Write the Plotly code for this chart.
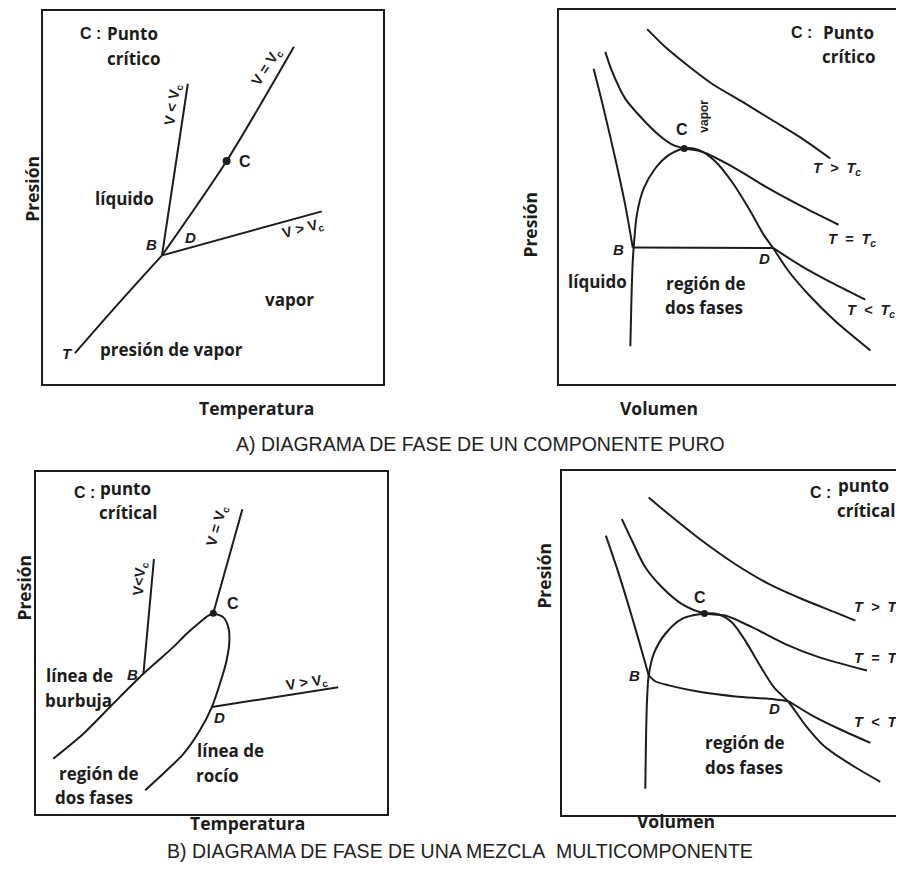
import plotly.graph_objects as go

# browser page has an 8 px body margin: the figure is shrunk and shifted by it
OFF = 8
W, H = 904 - OFF, 880 - OFF
INK = "#1c1c1c"
SANS = "Open Sans, Lato, sans-serif"
ARIAL = "Liberation Sans, Arial, sans-serif"
SP = "&nbsp;"

# ---------------- data (each panel in 0-100 units) ----------------
# A-left : Presión vs Temperatura, componente puro
a1_vap_T = [9.4, 22.3, 35.0]
a1_vap_P = [8.3, 21.7, 34.5]
a1_vlt_T = [35.0, 42.6]
a1_vlt_P = [34.5, 80.5]
a1_veq_T = [35.0, 54.0, 73.8]
a1_veq_P = [34.5, 59.8, 90.4]
a1_vgt_T = [35.0, 82.0]
a1_vgt_P = [34.5, 46.3]
a1_crit_T = [54.0]
a1_crit_P = [59.8]

# A-right : Presión vs Volumen, componente puro
a2_tgt_V = [25.7, 31.0, 36.8, 44.6, 53.4, 62.1, 70.8, 79.1]
a2_tgt_P = [94.9, 90.1, 85.7, 80.3, 75.5, 70.6, 65.7, 60.3]
a2_teq_V = [13.5, 15.5, 19.3, 24.2, 29.1, 32.9, 36.5, 41.7, 51.4, 61.1, 70.8, 81.5]
a2_teq_P = [88.8, 83.5, 76.3, 71.0, 66.6, 64.1, 63.0, 62.1, 57.7, 52.3, 47.5, 42.6]
a2_tlt1_V = [10.1, 13.0, 16.4, 19.3, 21.5]
a2_tlt1_P = [84.3, 73.7, 60.3, 47.9, 36.5]
a2_tlt2_V = [21.5, 62.4]
a2_tlt2_P = [36.5, 36.4]
a2_tlt3_V = [62.4, 70.8, 80.6, 89.3]
a2_tlt3_P = [36.4, 31.5, 26.6, 22.6]
a2_dome_V = [20.8, 21.1, 21.5, 21.8, 22.7, 24.7, 28.1, 32.0, 36.5, 40.7, 45.6,
             50.4, 55.3, 59.7, 62.4, 67.0, 72.8, 80.6, 90.8]
a2_dome_P = [10.1, 22.1, 32.8, 36.8, 45.3, 52.3, 57.7, 61.2, 63.0, 62.6, 59.5,
             54.1, 47.0, 39.9, 36.4, 30.1, 23.9, 16.8, 9.0]
a2_crit_V = [36.5]
a2_crit_P = [63.0]

# B-left : Presión vs Temperatura, mezcla multicomponente
b1_bub_T = [4.9, 13.5, 22.0, 30.6, 39.1, 42.9, 46.7, 49.1, 50.5]
b1_bub_P = [16.2, 23.5, 32.3, 41.0, 48.8, 52.7, 56.1, 58.0, 58.7]
b1_dew_T = [50.5, 53.4, 54.8, 55.1, 54.3, 52.4, 50.1, 46.7, 42.0, 36.3, 31.1]
b1_dew_P = [58.7, 57.5, 54.6, 50.7, 44.9, 38.1, 31.3, 24.5, 17.6, 11.9, 7.0]
b1_vlt_T = [30.6, 33.6]
b1_vlt_P = [41.0, 74.5]
b1_veq_T = [50.5, 58.8]
b1_veq_P = [58.7, 89.1]
b1_vgt_T = [50.1, 86.1]
b1_vgt_P = [31.3, 37.1]
b1_crit_T = [50.5]
b1_crit_P = [58.7]

# B-right : Presión vs Volumen, mezcla multicomponente
b2_tgt_V = [25.5, 31.4, 41.2, 51.0, 60.8, 70.6, 80.4, 86.3]
b2_tgt_P = [92.3, 87.4, 79.7, 72.9, 67.2, 62.8, 58.9, 56.5]
b2_teq_V = [17.6, 20.6, 24.5, 29.4, 35.3, 41.9, 48.0, 55.9, 65.7, 75.5, 89.7]
b2_teq_P = [86.0, 79.7, 72.0, 66.2, 61.3, 58.6, 58.0, 54.6, 49.7, 45.9, 42.0]
b2_tlt1_V = [12.9, 16.7, 20.6, 24.0, 25.5]
b2_tlt1_P = [81.2, 70.1, 57.5, 45.9, 40.6]
b2_tlt2_V = [25.5, 27.4, 31.4, 41.2, 51.0, 60.8, 66.7]
b2_tlt2_P = [40.6, 38.9, 37.7, 35.7, 34.5, 33.8, 33.1]
b2_tlt3_V = [66.7, 73.5, 81.4, 90.7]
b2_tlt3_P = [33.1, 29.0, 25.1, 21.0]
b2_dome_V = [24.5, 24.7, 25.0, 25.5, 27.0, 30.4, 35.3, 41.9, 46.1, 50.0, 53.9,
             57.9, 62.3, 66.7, 71.6, 77.4, 85.3, 93.6]
b2_dome_P = [7.7, 21.7, 33.3, 40.6, 46.9, 52.7, 57.0, 58.6, 58.3, 56.0, 50.7,
             44.0, 37.2, 32.8, 26.1, 19.8, 14.5, 9.7]
b2_crit_V = [41.9]
b2_crit_P = [58.6]

# ---------------- labels ----------------
VLT = "V" + SP + "<" + SP + "V<sub>c</sub>"
VEQ = "V" + SP + "=" + SP + "V<sub>c</sub>"
VGT = "V" + SP + ">" + SP + "V<sub>c</sub>"
TGT = "T" + SP * 2 + ">" + SP * 2 + "T<sub>c</sub>"
TEQ = "T" + SP * 2 + "=" + SP * 2 + "T<sub>c</sub>"
TLT = "T" + SP * 2 + "<" + SP * 2 + "T<sub>c</sub>"

a1_labels = [("C :", 14.1, 93.9, "C", 0), ("Punto", 26.2, 93.9, "lbl", 0),
             ("crítico", 26.5, 87.4, "lbl", 0),
             (VLT, 38.2, 74.9, "vv", -81),
             (VEQ, 65.9, 85.0, "vv", -57),
             ("C", 59.4, 59.6, "C", 0), ("líquido", 24.1, 49.7, "lbl", 0),
             ("B", 32.0, 37.4, "let", 0), ("D", 43.5, 39.3, "let", 0),
             (VGT, 76.5, 41.7, "vv", -15),
             ("vapor", 72.6, 22.7, "lbl", 0), ("T", 7.1, 8.3, "let", 0),
             ("presión de vapor", 37.9, 9.4, "lbl", 0)]
a2_labels = [("C :", 70.8, 93.9, "C", 0), ("Punto", 84.5, 93.9, "lbl", 0),
             ("crítico", 84.5, 87.5, "lbl", 0), ("vapor", 42.3, 71.5, "small", -90),
             ("C", 35.9, 68.0, "C", 0),
             (TGT, 81.0, 57.6, "tt", 0),
             (TEQ, 85.3, 38.6, "tt", 0),
             (TLT, 91.0, 19.5, "tt", 0),
             ("B", 17.2, 36.0, "let", 0), ("D", 59.8, 33.6, "let", 0),
             ("líquido", 11.1, 27.5, "lbl", 0), ("región de", 42.6, 26.9, "lbl", 0),
             ("dos fases", 42.3, 20.5, "lbl", 0)]
b1_labels = [("C :", 13.7, 93.9, "C", 0), ("punto", 25.4, 95.3, "lbl", 0),
             ("crítical", 26.3, 88.1, "lbl", 0),
             ("V<V<sub>c</sub>", 29.6, 68.8, "vv", -85),
             (VEQ, 51.6, 84.3, "vv", -74),
             ("C", 56.1, 61.5, "C", 0), ("B", 27.6, 40.8, "let", 0),
             ("línea de", 12.5, 40.5, "lbl", 0), ("burbuja", 12.0, 33.2, "lbl", 0),
             ("D", 52.4, 28.3, "let", 0),
             (VGT, 77.2, 38.2, "vv", -9),
             ("línea de", 55.3, 18.7, "lbl", 0), ("rocío", 51.6, 11.4, "lbl", 0),
             ("región de", 17.7, 12.0, "lbl", 0), ("dos fases", 16.5, 5.0, "lbl", 0)]
b2_labels = [("C :", 75.9, 93.6, "C", 0), ("punto", 88.7, 95.7, "lbl", 0),
             ("crítical", 89.5, 88.6, "lbl", 0), ("C", 40.6, 63.2, "C", 0),
             (TGT, 93.0, 60.3, "tt", 0),
             (TEQ, 93.0, 45.5, "tt", 0),
             (TLT, 93.0, 26.7, "tt", 0),
             ("B", 21.2, 40.6, "let", 0), ("D", 62.6, 31.0, "let", 0),
             ("región de", 53.8, 21.2, "lbl", 0), ("dos fases", 53.5, 13.9, "lbl", 0)]

axis_titles = [("Presión", 18, 152, -90), ("Temperatura", 197, 407, 0),
               ("Presión", 530, 188, -90), ("Volumen", 700, 407, 0),
               ("Presión", 10, 622, -90), ("Temperatura", 188, 837, 0),
               ("Presión", 544, 610, -90), ("Volumen", 717, 835, 0)]
titles = [("A) DIAGRAMA DE FASE DE UN COMPONENTE PURO", 480, 443),
          ("B) DIAGRAMA DE FASE DE UNA MEZCLA&nbsp; MULTICOMPONENTE", 460, 864)]

# ---------------- figure ----------------
# panel boxes in page pixels: left, right, top, bottom
boxes = [(43, 383, 9, 383), (559, 902, 8, 383), (36, 387, 471, 814), (562, 902, 470, 815)]


def fx(px):
    return (px - OFF) / W


def fy(py):
    return 1 - (py - OFF) / H


fig = go.Figure()

panels = [
    [(a1_vap_T, a1_vap_P, "spline"), (a1_vlt_T, a1_vlt_P, "linear"),
     (a1_veq_T, a1_veq_P, "spline"), (a1_vgt_T, a1_vgt_P, "linear")],
    [(a2_tgt_V, a2_tgt_P, "spline"), (a2_teq_V, a2_teq_P, "spline"),
     (a2_tlt1_V, a2_tlt1_P, "spline"), (a2_tlt2_V, a2_tlt2_P, "linear"),
     (a2_tlt3_V, a2_tlt3_P, "spline"), (a2_dome_V, a2_dome_P, "spline")],
    [(b1_bub_T, b1_bub_P, "spline"), (b1_dew_T, b1_dew_P, "spline"),
     (b1_vlt_T, b1_vlt_P, "linear"), (b1_veq_T, b1_veq_P, "linear"),
     (b1_vgt_T, b1_vgt_P, "linear")],
    [(b2_tgt_V, b2_tgt_P, "spline"), (b2_teq_V, b2_teq_P, "spline"),
     (b2_tlt1_V, b2_tlt1_P, "spline"), (b2_tlt2_V, b2_tlt2_P, "spline"),
     (b2_tlt3_V, b2_tlt3_P, "spline"), (b2_dome_V, b2_dome_P, "spline")],
]
crits = [(a1_crit_T, a1_crit_P, 8), (a2_crit_V, a2_crit_P, 7),
         (b1_crit_T, b1_crit_P, 7), (b2_crit_V, b2_crit_P, 7)]
label_sets = [a1_labels, a2_labels, b1_labels, b2_labels]

styles = {
    "lbl": dict(family=SANS, size=17, color=INK, weight=700),
    "C": dict(family=ARIAL, size=16, color=INK, weight=700),
    "let": dict(family=ARIAL, size=15, color=INK, weight=700, style="italic"),
    "vv": dict(family=ARIAL, size=14.5, color=INK, weight=700),
    "tt": dict(family=ARIAL, size=14.5, color=INK, weight=700, style="italic"),
    "small": dict(family=ARIAL, size=12, color=INK, weight=700),
}

annotations = []
layout_axes = {}
for i, (L, R, T, B) in enumerate(boxes):
    n = "" if i == 0 else str(i + 1)
    xa, ya = "x" + n, "y" + n
    for xs, ys, shape in panels[i]:
        fig.add_trace(go.Scatter(x=xs, y=ys, mode="lines", xaxis=xa, yaxis=ya,
                                 line=dict(color=INK, width=2, shape=shape, smoothing=0.8),
                                 hoverinfo="skip", showlegend=False))
    cx, cy, ms = crits[i]
    fig.add_trace(go.Scatter(x=cx, y=cy, mode="markers", xaxis=xa, yaxis=ya,
                             marker=dict(color=INK, size=ms), hoverinfo="skip",
                             showlegend=False))
    common = dict(range=[0, 100], showline=True, mirror=True, linecolor=INK,
                  linewidth=2, showgrid=False, zeroline=False,
                  showticklabels=False, ticks="", fixedrange=True)
    layout_axes["xaxis" + n] = dict(domain=[fx(L), min(fx(R), 1)], anchor=ya, **common)
    layout_axes["yaxis" + n] = dict(domain=[fy(B), fy(T)], anchor=xa, **common)
    for text, u, v, st, ang in label_sets[i]:
        annotations.append(dict(x=u, y=v, xref=xa, yref=ya, text=text,
                                showarrow=False, textangle=ang, font=styles[st]))

for text, px, py, ang in axis_titles:
    annotations.append(dict(x=fx(px), y=fy(py), xref="paper", yref="paper",
                            text=text, showarrow=False, textangle=ang,
                            font=dict(family=SANS, size=17.5, color=INK, weight=700)))
for text, px, py in titles:
    annotations.append(dict(x=fx(px), y=fy(py), xref="paper", yref="paper",
                            text=text, showarrow=False,
                            font=dict(family=ARIAL, size=19.5, color="#222222")))

fig.update_layout(width=W, height=H, margin=dict(l=0, r=0, t=0, b=0),
                  paper_bgcolor="white", plot_bgcolor="white",
                  annotations=annotations, **layout_axes)

fig.write_html("out.html")
